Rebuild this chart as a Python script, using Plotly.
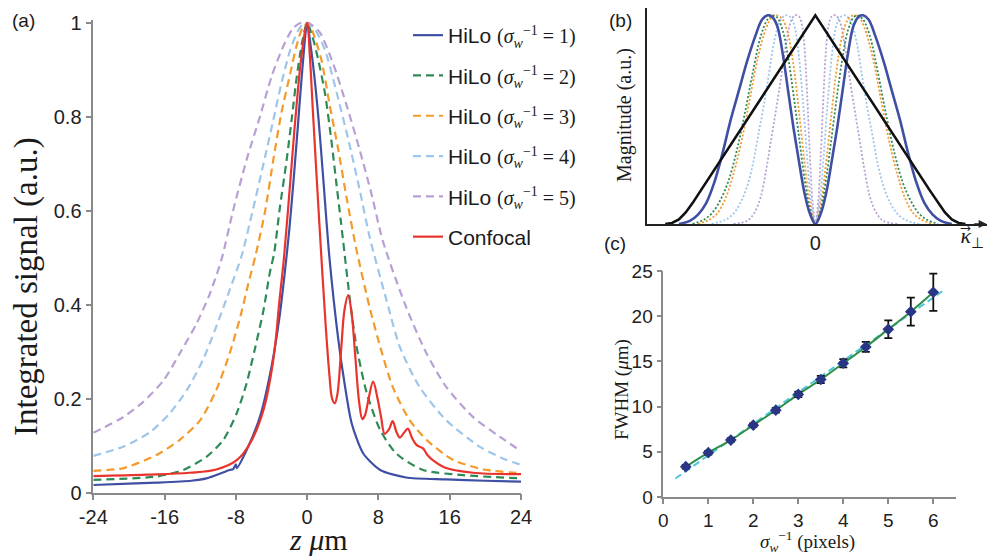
import plotly.graph_objects as go

# the page body keeps an 8px margin, so the figure is drawn 8px smaller and offset
OFF = 8
W, H = 998 - OFF, 558 - OFF

# ---------------- panel (a): axial response ----------------
z_ticks = [-24, -16, -8, 0, 8, 16, 24]
z_tick_text = ["-24", "-16", "-8", "0", "8", "16", "24"]

z_s1 = [-24, -20, -16.9, -13, -11.3, -8.7, -8.3, -8.0, -7.9, -6.8, -5.3, -4.0, -3.1, -2.5, -2.0,
        -1.5, -1.0, -0.5, 0, 0.4, 0.9, 1.3, 1.8, 2.5, 3.5, 4.2, 5.0, 6.3, 8.2, 11.1, 15.6, 20, 24]
v_s1 = [.016, .019, .021, .025, .030, .048, .050, .060, .052, .090, .161, .268, .374, .47, .56,
        .67, .79, .91, 1.0, .95, .87, .79, .67, .50, .325, .232, .147, .083, .048, .032, .028, .025, .023]

z_s2 = [-24, -16.9, -13.9, -11.3, -9.4, -7.9, -6.8, -5.9, -4.9, -4.2, -3.7, -3.1, -2.3, -1.7, -1.2,
        -0.6, 0, 0.6, 1.2, 2.0, 2.7, 3.3, 3.8, 4.8, 5.5, 6.7, 8.2, 10.0, 13.0, 17.5, 24]
v_s2 = [.027, .034, .048, .076, .112, .169, .232, .303, .388, .467, .51, .601, .708, .80, .88,
        .955, 1.0, .97, .925, .85, .752, .655, .575, .41, .315, .211, .133, .083, .048, .037, .030]

z_s3 = [-24, -20.6, -16.9, -14.3, -12.0, -10.2, -8.7, -7.5, -6.6, -5.75, -4.7, -3.8, -2.9, -1.9, -1.2,
        -0.5, 0.2, 0.7, 1.6, 2.5, 3.5, 4.4, 5.5, 7.0, 8.2, 9.6, 11.5, 13.4, 16.4, 20.1, 24]
v_s3 = [.046, .052, .080, .112, .154, .218, .296, .374, .445, .508, .601, .708, .807, .892, .950,
        .99, 1.0, .977, .921, .828, .729, .63, .52, .395, .31, .225, .154, .112, .069, .048, .041]

z_s4 = [-24, -20.6, -17.6, -15.4, -13.5, -11.7, -10.2, -8.7, -7.35, -6.1, -4.9, -3.8, -2.9, -1.9, -1.0,
        -0.3, 0.7, 2.0, 3.3, 4.6, 5.9, 7.0, 8.9, 10.4, 12.6, 15.6, 19.4, 22.4, 24]
v_s4 = [.078, .098, .129, .169, .218, .282, .353, .431, .504, .601, .70, .793, .870, .942, .984,
        1.0, .99, .942, .852, .753, .644, .545, .41, .31, .225, .154, .097, .069, .059]

z_s5 = [-24, -20.6, -18.4, -16.1, -14.3, -12.4, -10.9, -9.6, -8.3, -6.8, -5.3, -4.0, -2.7, -1.6, -0.7,
        0.3, 1.4, 2.9, 4.4, 5.9, 7.2, 8.5, 11.1, 13.4, 15.6, 18.6, 21.6, 24]
v_s5 = [.127, .161, .193, .239, .296, .36, .424, .497, .601, .708, .80, .885, .949, .988, 1.0,
        .998, .980, .914, .826, .729, .637, .535, .395, .296, .225, .161, .119, .088]

z_conf = [-24, -18, -13.2, -10.2, -7.9, -6.4, -4.9, -3.8, -3.1, -2.6, -1.9, -1.3, -0.6, 0, 0.3, 0.65,
          1.1, 1.6, 2.1, 2.5, 2.8, 3.1, 3.4, 3.8, 4.2, 4.6, 5.0, 5.4, 5.85, 6.2, 6.5, 6.9, 7.4, 7.9,
          8.3, 8.7, 9.2, 9.6, 10.0, 10.4, 10.9, 11.3, 11.8, 12.3, 13.0, 13.5, 14.1, 15.6, 18.6, 24]
v_conf = [.035, .038, .042, .049, .069, .105, .176, .282, .41, .50, .66, .80, .935, 1.0, .93, .81,
          .66, .50, .35, .25, .20, .19, .21, .30, .39, .42, .38, .29, .19, .156, .165, .20, .236, .20,
          .16, .125, .135, .152, .13, .117, .128, .136, .115, .101, .094, .08, .069, .052, .042, .039]

# ---------------- panel (b): filter spectra (right half, mirrored) ----------------
k_s1 = [0, .04, .08, .12, .16, .20, .24, .28, .32, .35, .39, .44, .50, .56, .62, .68, .74, .80, .86, .92, 1.0]
m_s1 = [0, .05, .15, .30, .46, .64, .82, .95, .995, 1.0, .98, .90, .78, .64, .50, .34, .20, .10, .045, .015, 0]
k_s2 = [0, .04, .08, .12, .16, .20, .24, .28, .31, .35, .40, .46, .52, .58, .64, .70, .76, .82, .90]
m_s2 = [0, .07, .22, .42, .62, .80, .93, .99, 1.0, .98, .90, .72, .52, .34, .20, .11, .05, .02, 0]
k_s3 = [0, .04, .08, .12, .16, .20, .24, .28, .32, .36, .42, .48, .54, .60, .66, .72, .78, .86]
m_s3 = [0, .10, .30, .54, .76, .91, .98, 1.0, .99, .94, .80, .60, .40, .24, .12, .05, .02, 0]
k_s4 = [0, .03, .06, .09, .12, .15, .18, .22, .26, .30, .34, .38, .42, .46, .50, .55, .60, .66, .76]
m_s4 = [0, .10, .32, .58, .80, .94, .99, 1.0, .97, .88, .72, .56, .42, .28, .18, .10, .05, .02, 0]
k_s5 = [0, .02, .04, .06, .08, .10, .12, .15, .18, .21, .24, .27, .30, .33, .36, .40, .45, .50, .60]
m_s5 = [0, .10, .33, .62, .85, .96, .995, 1.0, .97, .88, .75, .62, .50, .38, .26, .13, .05, .015, 0]
k_otf = [0, .84, .90, .95, 1.0, 1.05, 1.10]
m_otf = [1, .16, .10, .055, .022, .005, 0]

# ---------------- panel (c): FWHM vs sigma ----------------
sigma_inv = [0.5, 1, 1.5, 2, 2.5, 3, 3.5, 4, 4.5, 5, 5.5, 6]
fwhm = [3.35, 4.9, 6.3, 7.95, 9.6, 11.35, 13.0, 14.8, 16.6, 18.55, 20.5, 22.65]
fwhm_err = [0.2, 0.2, 0.2, 0.2, 0.25, 0.3, 0.4, 0.45, 0.55, 0.98, 1.55, 2.07]
fit_x = [0.27, 6.27]
fit_y = [2.05, 23.0]

blue, green, orange, lblue, purple, red = "#3f4fa3", "#2e8b57", "#f39a2b", "#9ec6ea", "#b9a0d4", "#e8342c"
serif = "Liberation Serif"
sans = "Liberation Sans"


def fx(px):
    # reference pixel -> paper fraction
    return (px - OFF) / W


def fy(py):
    return 1 - (py - OFF) / H


def mirror(k, m):
    return [-v for v in k[::-1]] + k[1:], m[::-1] + m[1:]


def hilo_name(n):
    return ("HiLo <span style='font-family:Liberation Serif;font-size:20px'>(<i>σ</i><sub><i>w</i></sub>"
            "<sup>−1</sup> = %d)</span>" % n)


fig = go.Figure()

series_a = [
    (z_s1, v_s1, blue, "solid", 1),
    (z_s2, v_s2, green, "8px,5px", 2),
    (z_s3, v_s3, orange, "8px,5px", 3),
    (z_s4, v_s4, lblue, "8px,5px", 4),
    (z_s5, v_s5, purple, "8px,5px", 5),
]
for zz, vv, col, dash, n in series_a:
    fig.add_trace(go.Scatter(x=zz, y=vv, mode="lines", name=hilo_name(n), legendgroup="g%d" % n,
                             line=dict(color=col, width=2.2, dash=dash, shape="spline", smoothing=0.7),
                             xaxis="x", yaxis="y"))
fig.add_trace(go.Scatter(x=z_conf, y=v_conf, mode="lines", name="Confocal", legendgroup="conf",
                         line=dict(color=red, width=2.2, shape="spline", smoothing=1.0),
                         xaxis="x", yaxis="y"))

# panel (b)
series_b = [
    (k_s5, m_s5, purple, "2px,2px", 1.8, "spline"),
    (k_s4, m_s4, lblue, "2px,2px", 1.8, "spline"),
    (k_s3, m_s3, orange, "2px,2px", 1.8, "spline"),
    (k_s2, m_s2, green, "2px,2px", 1.8, "spline"),
    (k_s1, m_s1, blue, "solid", 2.6, "spline"),
    (k_otf, m_otf, "#111111", "solid", 2.6, "linear"),
]
for kk, mm, col, dash, lw, shp in series_b:
    kx, my = mirror(kk, mm)
    fig.add_trace(go.Scatter(x=kx, y=my, mode="lines", showlegend=False,
                             line=dict(color=col, width=lw, dash=dash, shape=shp),
                             xaxis="x2", yaxis="y2"))

# panel (c)
fig.add_trace(go.Scatter(x=fit_x, y=fit_y, mode="lines", showlegend=False,
                         line=dict(color="#4fc6dc", width=2, dash="7px,4px"), xaxis="x3", yaxis="y3"))
fig.add_trace(go.Scatter(x=sigma_inv, y=fwhm, mode="lines", showlegend=False,
                         line=dict(color="#2f8f4a", width=2, shape="spline"), xaxis="x3", yaxis="y3"))
fig.add_trace(go.Scatter(x=sigma_inv, y=fwhm, mode="markers", showlegend=False,
                         marker=dict(symbol="diamond", size=9, color="#2a3585"),
                         error_y=dict(type="data", array=fwhm_err, color="#111111", thickness=1.8, width=4),
                         xaxis="x3", yaxis="y3"))

axis_gray = "#8a8a8a"
tick_font = dict(family=sans, size=20, color="#222222")
tick_font_c = dict(family=sans, size=19, color="#222222")

fig.update_layout(
    width=W, height=H,
    margin=dict(l=0, r=0, t=0, b=0, pad=0, autoexpand=False),
    paper_bgcolor="white", plot_bgcolor="white",
    showlegend=True,
    legend=dict(x=fx(408), y=fy(15), xanchor="left", yanchor="top",
                font=dict(family=sans, size=21, color="#1a1a1a"),
                tracegroupgap=10, itemwidth=30, bgcolor="rgba(0,0,0,0)"),
    xaxis=dict(domain=[fx(93.3), fx(521)], range=[-24, 24], tickvals=z_ticks, ticktext=z_tick_text,
               showline=True, linecolor=axis_gray, linewidth=1.5, ticks="outside", ticklen=6,
               tickcolor=axis_gray, tickwidth=1.5, showgrid=False, zeroline=False, tickfont=tick_font,
               anchor="y", automargin=False),
    yaxis=dict(domain=[fy(492.5), fy(20.4)], range=[0, 1.005], tickvals=[0, 0.2, 0.4, 0.6, 0.8, 1],
               ticktext=["0", "0.2", "0.4", "0.6", "0.8", "1"],
               showline=True, linecolor=axis_gray, linewidth=1.5, ticks="outside", ticklen=6,
               tickcolor=axis_gray, tickwidth=1.5, showgrid=False, zeroline=False, tickfont=tick_font,
               anchor="x", automargin=False),
    xaxis2=dict(domain=[fx(646.7), fx(986.7)], range=[-1.236, 1.256], tickvals=[0], ticktext=["0"],
                showline=True, linecolor="#222222", linewidth=1.6, ticks="", showgrid=False,
                zeroline=False, tickfont=tick_font, anchor="y2", automargin=False),
    yaxis2=dict(domain=[fy(224), fy(8)], range=[0, 1.035], showticklabels=False,
                showline=True, linecolor="#222222", linewidth=1.6, ticks="", showgrid=False,
                zeroline=False, anchor="x2", automargin=False),
    xaxis3=dict(domain=[fx(663.3), fx(955.8)], range=[0, 6.5], tickvals=[0, 1, 2, 3, 4, 5, 6],
                showline=True, linecolor=axis_gray, linewidth=1.5, ticks="outside", ticklen=5,
                tickcolor=axis_gray, tickwidth=1.5, showgrid=False, zeroline=False, tickfont=tick_font_c,
                anchor="y3", automargin=False),
    yaxis3=dict(domain=[fy(497), fy(271)], range=[0, 25], tickvals=[0, 5, 10, 15, 20, 25],
                showline=True, linecolor=axis_gray, linewidth=1.5, ticks="outside", ticklen=5,
                tickcolor=axis_gray, tickwidth=1.5, showgrid=False, zeroline=False, tickfont=tick_font_c,
                anchor="x3", automargin=False),
)

ann = [
    dict(text="(a)", x=fx(23), y=fy(20), font=dict(family=sans, size=19, color="#1a1a1a")),
    dict(text="(b)", x=fx(620), y=fy(20), font=dict(family=sans, size=19, color="#1a1a1a")),
    dict(text="(c)", x=fx(615), y=fy(243), font=dict(family=sans, size=19, color="#1a1a1a")),
    dict(text="Integrated signal (a.u.)", x=fx(26), y=fy(287), textangle=-90,
         font=dict(family=serif, size=33, color="#1a1a1a")),
    dict(text="<i>z</i> <i>μ</i>m", x=fx(318), y=fy(539), font=dict(family=serif, size=30, color="#1a1a1a")),
    dict(text="Magnitude (a.u.)", x=fx(624), y=fy(115), textangle=-90,
         font=dict(family=serif, size=20, color="#1a1a1a")),
    dict(text="<i>κ</i>\u20d7<sub>⊥</sub>", x=fx(972), y=fy(237), font=dict(family=serif, size=22, color="#1a1a1a")),
    dict(text="FWHM (<i>μ</i>m)", x=fx(622), y=fy(390), textangle=-90,
         font=dict(family=serif, size=19, color="#1a1a1a")),
    dict(text="<i>σ</i><sub><i>w</i></sub><sup>−1</sup> (pixels)", x=fx(807), y=fy(541),
         font=dict(family=serif, size=19, color="#1a1a1a")),
]
for a in ann:
    a.update(xref="paper", yref="paper", showarrow=False, xanchor="center", yanchor="middle")
    fig.add_annotation(**a)

# arrowhead on the kappa axis
fig.add_annotation(x=1.256, y=0, xref="x2", yref="y2", ax=-14, ay=0, text="", showarrow=True,
                   arrowhead=2, arrowsize=1, arrowwidth=1.6, arrowcolor="#222222")

fig.write_html("out.html")
